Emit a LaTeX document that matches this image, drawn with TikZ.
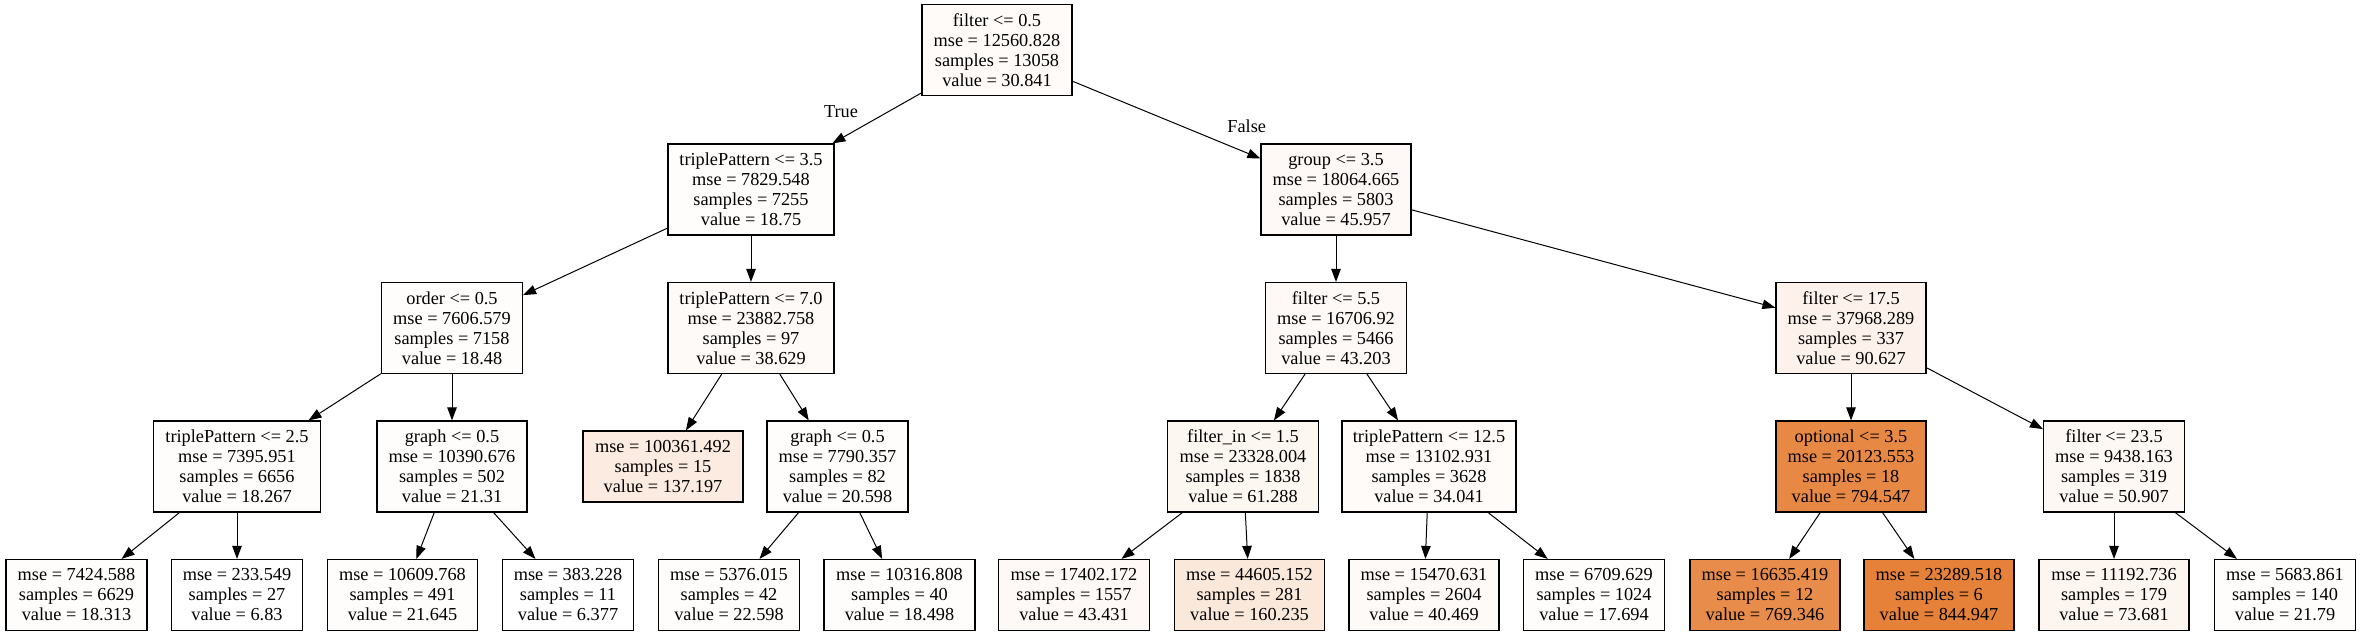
\documentclass[tikz,border=0pt]{standalone}
\usepackage{fontspec}
\setmainfont{Liberation Serif}
\usetikzlibrary{arrows.meta}
\definecolor{dt}{RGB}{229,129,57}
\begin{document}
\begin{tikzpicture}[x=1pt,y=-1pt,
 box/.style={draw=black, line width=1.2pt, rectangle, align=center, inner sep=0pt,
   font=\fontsize{18.3}{20}\selectfont, minimum height=91pt},
 leaf/.style={box, minimum height=71pt},
 edge/.style={line width=1pt, -{Triangle[length=13pt,width=9.5pt]}},
 lbl/.style={font=\fontsize{18.3}{20}\selectfont, inner sep=0pt}]
\useasboundingbox (0,0) rectangle (2361,636);
% level 0
\node[box, minimum width=150pt, fill=dt!2.9!white] (root) at (997,50.3) {filter <= 0.5\\mse = 12560.828\\samples = 13058\\value = 30.841};
% level 1
\node[box, minimum width=166pt, fill=dt!1.5!white] (t35) at (751,189.5) {triplePattern <= 3.5\\mse = 7829.548\\samples = 7255\\value = 18.75};
\node[box, minimum width=150pt, fill=dt!4.7!white] (grp) at (1336,189.5) {group <= 3.5\\mse = 18064.665\\samples = 5803\\value = 45.957};
% level 2
\node[box, minimum width=141pt, fill=dt!1.4!white] (ord) at (452,328) {order <= 0.5\\mse = 7606.579\\samples = 7158\\value = 18.48};
\node[box, minimum width=166pt, fill=dt!3.8!white] (t70) at (751,328) {triplePattern <= 7.0\\mse = 23882.758\\samples = 97\\value = 38.629};
\node[box, minimum width=141pt, fill=dt!4.4!white] (f55) at (1336,328) {filter <= 5.5\\mse = 16706.92\\samples = 5466\\value = 43.203};
\node[box, minimum width=150pt, fill=dt!10.0!white] (f175) at (1851,328) {filter <= 17.5\\mse = 37968.289\\samples = 337\\value = 90.627};
% level 3
\node[box, minimum width=167pt, fill=dt!1.4!white] (t25) at (237,466.5) {triplePattern <= 2.5\\mse = 7395.951\\samples = 6656\\value = 18.267};
\node[box, minimum width=150pt, fill=dt!1.8!white] (g1) at (452,466.5) {graph <= 0.5\\mse = 10390.676\\samples = 502\\value = 21.31};
\node[leaf, minimum width=160pt, fill=dt!15.6!white] (lA) at (663,466.5) {mse = 100361.492\\samples = 15\\value = 137.197};
\node[box, minimum width=141pt, fill=dt!1.7!white] (g2) at (837.5,466.5) {graph <= 0.5\\mse = 7790.357\\samples = 82\\value = 20.598};
\node[box, minimum width=151pt, fill=dt!6.5!white] (fin) at (1243,466.5) {filter\_in <= 1.5\\mse = 23328.004\\samples = 1838\\value = 61.288};
\node[box, minimum width=174pt, fill=dt!3.3!white] (t125) at (1429,466.5) {triplePattern <= 12.5\\mse = 13102.931\\samples = 3628\\value = 34.041};
\node[box, minimum width=150pt, fill=dt!94.0!white] (opt) at (1851,466.5) {optional <= 3.5\\mse = 20123.553\\samples = 18\\value = 794.547};
\node[box, minimum width=141pt, fill=dt!5.3!white] (f235) at (2114,466.5) {filter <= 23.5\\mse = 9438.163\\samples = 319\\value = 50.907};
% level 4
\node[leaf, minimum width=141pt, fill=dt!1.4!white] (l1) at (76.5,595) {mse = 7424.588\\samples = 6629\\value = 18.313};
\node[leaf, minimum width=131.5pt, fill=dt!0.05!white] (l2) at (237,595) {mse = 233.549\\samples = 27\\value = 6.83};
\node[leaf, minimum width=150pt, fill=dt!1.8!white] (l3) at (402.5,595) {mse = 10609.768\\samples = 491\\value = 21.645};
\node[leaf, minimum width=131.5pt, fill=white] (l4) at (568,595) {mse = 383.228\\samples = 11\\value = 6.377};
\node[leaf, minimum width=141pt, fill=dt!1.9!white] (l5) at (729,595) {mse = 5376.015\\samples = 42\\value = 22.598};
\node[leaf, minimum width=151pt, fill=dt!1.4!white] (l6) at (899.5,595) {mse = 10316.808\\samples = 40\\value = 18.498};
\node[leaf, minimum width=151pt, fill=dt!4.4!white] (l7) at (1074,595) {mse = 17402.172\\samples = 1557\\value = 43.431};
\node[leaf, minimum width=150pt, fill=dt!18.3!white] (l8) at (1249.5,595) {mse = 44605.152\\samples = 281\\value = 160.235};
\node[leaf, minimum width=150pt, fill=dt!4.1!white] (l9) at (1424,595) {mse = 15470.631\\samples = 2604\\value = 40.469};
\node[leaf, minimum width=141pt, fill=dt!1.3!white] (l10) at (1594,595) {mse = 6709.629\\samples = 1024\\value = 17.694};
\node[leaf, minimum width=150pt, fill=dt!91.0!white] (l11) at (1765,595) {mse = 16635.419\\samples = 12\\value = 769.346};
\node[leaf, minimum width=150pt, fill=dt] (l12) at (1939,595) {mse = 23289.518\\samples = 6\\value = 844.947};
\node[leaf, minimum width=150pt, fill=dt!8.0!white] (l13) at (2114,595) {mse = 11192.736\\samples = 179\\value = 73.681};
\node[leaf, minimum width=141pt, fill=dt!1.8!white] (l14) at (2285,595) {mse = 5683.861\\samples = 140\\value = 21.79};
% labels
\node[lbl] (ltrue) at (841,111.7) {True};
\node[lbl] (lfalse) at (1246.7,126.7) {False};
% edges
\draw[edge] (root) -- (t35);
\draw[edge] (root) -- (grp);
\draw[edge] (t35) -- (ord);
\draw[edge] (t35) -- (t70);
\draw[edge] (grp) -- (f55);
\draw[edge] (grp) -- (f175);
\draw[edge] (ord) -- (t25);
\draw[edge] (ord) -- (g1);
\draw[edge] (t70) -- (lA);
\draw[edge] (t70) -- (g2);
\draw[edge] (f55) -- (fin);
\draw[edge] (f55) -- (t125);
\draw[edge] (f175) -- (opt);
\draw[edge] (f175) -- (f235);
\draw[edge] (t25) -- (l1);
\draw[edge] (t25) -- (l2);
\draw[edge] (g1) -- (l3);
\draw[edge] (g1) -- (l4);
\draw[edge] (g2) -- (l5);
\draw[edge] (g2) -- (l6);
\draw[edge] (fin) -- (l7);
\draw[edge] (fin) -- (l8);
\draw[edge] (t125) -- (l9);
\draw[edge] (t125) -- (l10);
\draw[edge] (opt) -- (l11);
\draw[edge] (opt) -- (l12);
\draw[edge] (f235) -- (l13);
\draw[edge] (f235) -- (l14);
\end{tikzpicture}
\end{document}
